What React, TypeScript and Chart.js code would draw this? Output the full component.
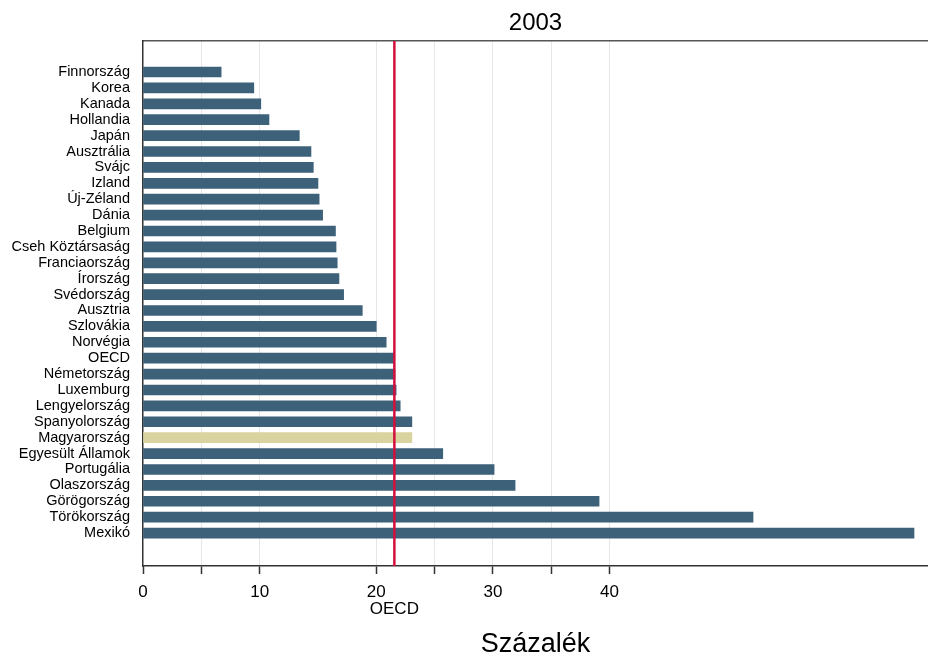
import React, { useEffect, useRef } from "react";
import { Chart, registerables } from "chart.js";

Chart.register(...registerables);

const countries: string[] = [
  "Finnország", "Korea", "Kanada", "Hollandia", "Japán", "Ausztrália", "Svájc", "Izland",
  "Új-Zéland", "Dánia", "Belgium", "Cseh Köztársaság", "Franciaország", "Írország",
  "Svédország", "Ausztria", "Szlovákia", "Norvégia", "OECD", "Németország", "Luxemburg",
  "Lengyelország", "Spanyolország", "Magyarország", "Egyesült Államok", "Portugália",
  "Olaszország", "Görögország", "Törökország", "Mexikó",
];

const values: number[] = [
  6.7, 9.5, 10.1, 10.8, 13.4, 14.4, 14.6, 15.0,
  15.1, 15.4, 16.5, 16.55, 16.65, 16.8,
  17.2, 18.8, 20.0, 20.85, 21.55, 21.6, 21.7,
  22.05, 23.05, 23.05, 25.7, 30.1,
  31.9, 39.1, 52.3, 66.1,
];

const xTickValues: number[] = [0, 5, 10, 20, 25, 30, 35, 40];
const xLabelValues: number[] = [0, 10, 20, 30, 40];
const highlight = "Magyarország";
const refLabel = "OECD";
const chartTitle = "2003";
const xTitle = "Százalék";

const FONT = "'Liberation Sans', Arial, sans-serif";
const BAR = "#3d6179";
const HIGHLIGHT = "#d9d49f";
const RED = "#d3103d";

export default function App() {
  const canvasRef = useRef<HTMLCanvasElement | null>(null);

  useEffect(() => {
    const canvas = canvasRef.current;
    if (!canvas) return;
    const oecdValue = values[countries.indexOf(refLabel)];

    const refLinePlugin = {
      id: "refLine",
      afterDatasetsDraw(chart: any) {
        const { ctx, chartArea, scales } = chart;
        const px = scales.x.getPixelForValue(oecdValue);
        ctx.save();
        ctx.strokeStyle = RED;
        ctx.lineWidth = 2.5;
        ctx.beginPath();
        ctx.moveTo(px, chartArea.top);
        ctx.lineTo(px, chartArea.bottom);
        ctx.stroke();
        ctx.restore();
      },
    };

    const chart = new Chart(canvas, {
      type: "bar",
      data: {
        datasets: [
          {
            data: countries.map((c, i) => ({ x: values[i], y: i })) as any,
            backgroundColor: countries.map((c) => (c === highlight ? HIGHLIGHT : BAR)),
            borderWidth: 0,
            barThickness: 10,
          },
        ],
      },
      options: {
        indexAxis: "y",
        animation: false,
        responsive: false,
        devicePixelRatio: 1,
        layout: { padding: 0 },
        plugins: {
          legend: { display: false },
          tooltip: { enabled: false },
          title: { display: false },
        },
        scales: {
          x: {
            type: "linear",
            position: "bottom",
            min: 0,
            max: 67.3,
            offset: false,
            afterBuildTicks: (scale: any) => {
              const t = [...xTickValues, oecdValue].sort((a, b) => a - b);
              scale.ticks = t.map((v) => ({ value: v }));
            },
            afterFit: (scale: any) => {
              scale.height = 93;
            },
            ticks: {
              autoSkip: false,
              maxRotation: 0,
              minRotation: 0,
              padding: 9,
              color: "#000",
              font: { family: FONT, size: 17, lineHeight: 1.05 },
              callback: (v: any) => {
                const n = Number(v);
                if (n === oecdValue) return ["", refLabel];
                return xLabelValues.includes(n) ? String(n) : "";
              },
            },
            grid: {
              drawTicks: true,
              tickLength: 8,
              lineWidth: 1,
              tickWidth: 1.5,
              color: (ctx: any) => {
                const v = ctx.tick ? ctx.tick.value : null;
                if (v === 0 || v === oecdValue) return "rgba(0,0,0,0)";
                return "#e6e6e6";
              },
              tickColor: (ctx: any) => {
                const v = ctx.tick ? ctx.tick.value : null;
                if (v === oecdValue) return "rgba(0,0,0,0)";
                return "#333";
              },
            },
            border: { display: true, color: "#333", width: 1.5 },
            title: {
              display: true,
              text: xTitle,
              color: "#000",
              font: { family: FONT, size: 27, lineHeight: 1.1 },
              padding: { top: 0, bottom: 0 },
            },
          },
          x2: {
            type: "linear",
            position: "top",
            min: 0,
            max: 67.3,
            afterFit: (scale: any) => {
              scale.height = 41;
            },
            ticks: { display: false },
            grid: { display: false, drawTicks: false },
            border: { display: true, color: "#555", width: 1.5 },
            title: {
              display: true,
              text: chartTitle,
              color: "#000",
              font: { family: FONT, size: 24, lineHeight: 1.2 },
              padding: { top: 9, bottom: 2 },
            },
          },
          y: {
            type: "linear",
            reverse: true,
            offset: false,
            min: -1.95,
            max: 31.07,
            afterBuildTicks: (scale: any) => {
              scale.ticks = countries.map((_, i) => ({ value: i }));
            },
            afterFit: (scale: any) => {
              scale.width = 143;
            },
            ticks: {
              autoSkip: false,
              padding: 13,
              color: "#000",
              font: { family: FONT, size: 14.5 },
              callback: (v: any) => countries[Number(v)] ?? "",
            },
            grid: { display: false, drawTicks: false },
            border: { display: true, color: "#333", width: 1.5 },
          },
        },
      },
      plugins: [refLinePlugin],
    });

    return () => {
      chart.destroy();
    };
  }, []);

  return (
    <div style={{ position: "fixed", left: 0, top: 0, width: 928, height: 659, background: "#fff" }}>
      <canvas ref={canvasRef} width={928} height={659} style={{ display: "block" }} />
    </div>
  );
}
